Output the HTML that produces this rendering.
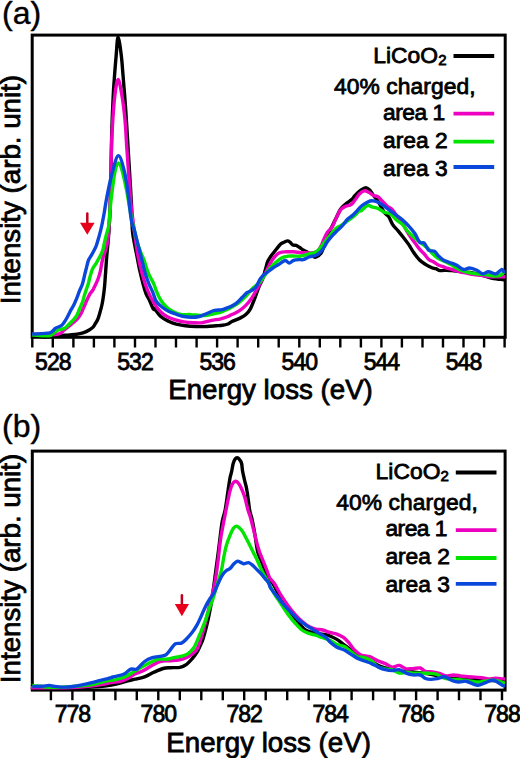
<!DOCTYPE html>
<html><head><meta charset="utf-8"><style>
html,body{margin:0;padding:0;background:#fff;}
svg{display:block;}
text{font-family:"Liberation Sans",sans-serif;fill:#000;stroke:#000;stroke-width:0.8px;}
.tl{font-size:23px;letter-spacing:-1px;}
.ti{font-size:27.7px;}
.pl{font-size:32px;stroke-width:0.4px;}
.lg{font-size:22.8px;}
.c40{letter-spacing:0.091px;}
.a1{letter-spacing:-0.500px;}
.a2{letter-spacing:-0.020px;}
.li{letter-spacing:0.040px;}
.sub{font-size:15px;}
</style></head><body>
<svg width="520" height="758" viewBox="0 0 520 758">
<rect width="520" height="758" fill="#fff"/>
<rect x="32.2" y="35.1" width="473.0" height="302.2" fill="none" stroke="#000" stroke-width="3"/>
<clipPath id="ca"><rect x="30.7" y="33.6" width="476.0" height="305.2"/></clipPath>
<g clip-path="url(#ca)" fill="none" stroke-width="3.4" stroke-linejoin="round" stroke-linecap="butt">
<path d="M32.2,335.3 C32.4,335.3 31.4,335.0 33.5,335.3 C35.6,335.6 41.5,337.1 45.0,337.2 C48.5,337.3 51.4,336.1 54.6,335.8 C57.8,335.5 61.3,335.5 64.2,335.3 C67.1,335.1 69.5,335.1 71.9,334.8 C74.3,334.6 76.6,334.2 78.7,333.8 C80.8,333.4 82.7,333.0 84.4,332.4 C86.2,331.8 87.8,330.9 89.2,330.0 C90.7,329.1 92.1,328.1 93.1,327.1 C94.1,326.1 94.2,325.5 95.0,324.2 C95.8,322.9 96.9,321.4 97.7,319.5 C98.5,317.6 99.1,315.4 99.8,313.0 C100.5,310.6 101.4,307.4 101.9,305.0 C102.4,302.6 102.5,302.0 103.0,298.9 C103.5,295.8 104.2,290.6 104.6,286.2 C105.0,281.8 105.2,277.4 105.6,272.5 C105.9,267.6 106.3,262.0 106.7,256.7 C107.1,251.4 107.8,246.1 108.2,240.8 C108.6,235.5 109.0,231.0 109.3,225.0 C109.6,219.0 109.9,214.2 110.2,205.0 C110.5,195.8 110.7,182.9 111.0,170.0 C111.3,157.1 111.5,139.9 111.9,127.6 C112.3,115.3 112.8,104.6 113.2,96.0 C113.6,87.4 114.0,82.8 114.5,76.2 C115.0,69.6 115.5,62.9 116.1,56.4 C116.7,49.9 117.2,37.0 118.1,37.0 C119.0,37.0 120.6,49.9 121.4,56.4 C122.2,62.9 122.5,69.6 123.1,76.2 C123.6,82.8 124.1,88.4 124.7,96.0 C125.3,103.6 126.0,113.6 126.5,122.0 C127.0,130.4 127.5,137.9 128.0,146.4 C128.5,154.9 129.0,163.0 129.6,172.8 C130.2,182.6 131.0,195.4 131.5,205.0 C132.0,214.6 131.8,223.7 132.4,230.6 C133.0,237.5 134.2,242.0 135.0,246.4 C135.8,250.8 136.3,252.8 137.1,256.9 C137.9,260.9 138.8,266.3 139.8,270.7 C140.8,275.1 141.9,279.4 142.9,283.3 C143.9,287.2 145.0,291.1 146.1,293.9 C147.2,296.7 148.1,297.5 149.3,300.0 C150.5,302.5 152.4,307.5 153.3,309.0 C154.2,310.5 153.3,307.6 154.6,308.8 C155.8,310.1 158.5,314.4 160.8,316.5 C163.1,318.6 165.9,319.9 168.5,321.2 C171.1,322.5 173.4,323.4 176.2,324.2 C179.0,325.0 182.1,325.4 185.4,325.8 C188.7,326.2 192.6,326.4 196.2,326.5 C199.8,326.6 203.6,326.6 206.9,326.5 C210.2,326.4 213.6,326.0 216.2,325.8 C218.8,325.6 220.3,325.6 222.3,325.3 C224.3,325.0 226.4,324.6 228.0,324.0 C229.6,323.4 229.9,322.5 231.9,321.5 C233.9,320.5 237.7,319.2 240.0,318.1 C242.3,317.0 244.1,316.2 245.8,314.6 C247.5,313.1 249.1,311.1 250.4,308.8 C251.7,306.5 252.5,304.2 253.8,300.8 C255.2,297.4 256.9,292.0 258.5,288.1 C260.1,284.2 262.0,280.8 263.1,277.7 C264.2,274.6 264.6,272.3 265.4,269.6 C266.2,266.9 266.7,263.8 267.7,261.5 C268.7,259.2 269.8,257.9 271.2,255.8 C272.6,253.8 274.7,251.2 276.3,249.2 C277.9,247.2 279.4,245.2 280.7,244.0 C282.0,242.8 283.0,242.8 284.1,242.3 C285.2,241.8 286.6,240.9 287.6,240.9 C288.6,240.9 289.3,241.6 290.2,242.3 C291.1,243.0 291.8,244.4 292.8,244.9 C293.8,245.4 295.1,245.0 296.2,245.4 C297.3,245.8 298.5,246.7 299.7,247.5 C300.9,248.3 302.0,249.3 303.1,250.0 C304.2,250.7 305.0,250.8 306.6,251.8 C308.2,252.8 311.1,255.2 312.7,256.1 C314.3,257.0 314.7,257.6 316.1,257.0 C317.5,256.4 319.8,255.0 321.3,252.7 C322.8,250.4 323.9,246.1 325.0,243.0 C326.1,239.9 326.8,236.8 328.0,234.0 C329.2,231.2 330.7,229.0 332.0,226.5 C333.3,224.0 334.2,221.8 335.6,219.0 C337.0,216.2 339.0,211.8 340.4,209.5 C341.8,207.2 342.8,206.7 344.0,205.5 C345.2,204.3 346.1,203.7 347.5,202.6 C348.9,201.5 351.1,200.2 352.3,199.0 C353.6,197.8 353.5,196.9 355.0,195.4 C356.5,193.9 359.4,191.3 361.2,190.0 C363.0,188.7 364.4,187.7 365.8,187.7 C367.2,187.7 368.3,188.7 369.6,190.0 C370.9,191.3 372.1,193.5 373.5,195.4 C374.9,197.3 376.3,198.7 378.1,201.5 C379.9,204.3 382.4,209.7 384.2,212.3 C386.0,214.9 387.4,214.9 388.8,216.9 C390.2,218.9 391.1,222.3 392.7,224.6 C394.2,226.9 396.2,228.5 398.1,230.8 C400.0,233.1 402.4,236.2 404.2,238.5 C406.0,240.8 407.2,242.3 408.8,244.6 C410.4,246.9 411.7,249.7 413.5,252.3 C415.3,254.9 417.6,257.9 419.6,260.0 C421.7,262.1 423.8,263.3 425.8,264.6 C427.9,265.9 430.2,267.0 431.9,267.7 C433.6,268.4 434.4,268.2 435.8,268.7 C437.2,269.2 438.5,270.4 440.2,270.6 C441.9,270.9 444.2,270.2 446.1,270.2 C448.1,270.2 449.6,270.4 451.9,270.6 C454.2,270.8 457.0,271.2 460.0,271.5 C463.0,271.8 466.7,272.0 470.0,272.5 C473.3,273.0 476.4,273.6 480.0,274.5 C483.6,275.4 488.5,277.4 491.4,278.2 C494.3,278.9 495.2,278.8 497.3,279.0 C499.4,279.2 502.5,279.6 503.8,279.7 C505.1,279.8 505.0,279.7 505.2,279.7" stroke="#000000"/>
<path d="M32.2,334.5 C32.4,334.5 31.4,334.4 33.5,334.5 C35.6,334.6 41.4,334.8 45.0,334.8 C48.6,334.8 52.5,334.7 55.0,334.5 C57.5,334.3 58.5,334.2 60.0,333.5 C61.5,332.8 62.7,331.2 64.2,330.0 C65.7,328.8 67.4,327.5 69.0,326.2 C70.6,324.9 72.3,323.6 73.8,322.3 C75.2,321.0 76.4,320.1 77.7,318.5 C79.0,316.9 80.4,314.8 81.5,312.7 C82.6,310.6 83.4,308.2 84.4,306.0 C85.4,303.8 86.3,301.3 87.3,299.2 C88.3,297.1 89.2,295.1 90.2,293.5 C91.2,291.9 91.8,291.9 93.1,289.6 C94.3,287.3 96.5,282.9 97.7,279.9 C98.9,276.9 99.7,273.9 100.3,271.4 C100.9,268.9 101.0,267.4 101.4,265.1 C101.9,262.8 102.4,260.0 103.0,257.7 C103.6,255.4 104.3,254.2 105.1,251.4 C105.9,248.6 107.0,245.2 107.7,240.8 C108.4,236.4 108.8,231.0 109.2,225.0 C109.6,219.0 109.8,218.1 110.2,205.0 C110.6,191.9 111.1,159.7 111.5,146.4 C111.9,133.1 112.0,133.4 112.5,125.0 C113.0,116.6 113.9,103.6 114.8,96.0 C115.7,88.4 116.9,79.5 118.1,79.5 C119.3,79.5 120.8,89.2 122.0,96.0 C123.2,102.8 124.2,111.6 125.0,120.0 C125.8,128.4 126.1,137.6 126.7,146.4 C127.3,155.2 127.9,164.0 128.6,172.8 C129.2,181.6 130.2,193.6 130.6,199.0 C131.0,204.4 130.5,200.2 131.1,205.0 C131.7,209.8 132.8,219.6 133.9,227.7 C135.0,235.8 136.2,245.9 137.6,253.6 C139.0,261.3 140.5,267.8 142.2,274.0 C143.9,280.2 145.6,285.6 147.7,290.6 C149.8,295.6 152.4,300.6 154.6,304.2 C156.8,307.8 158.8,309.8 160.8,311.9 C162.9,313.9 164.6,315.2 166.9,316.5 C169.2,317.8 171.8,318.7 174.6,319.6 C177.4,320.5 180.7,321.4 183.8,321.9 C186.9,322.4 190.0,322.6 193.1,322.7 C196.2,322.8 199.2,323.1 202.3,322.7 C205.4,322.3 208.4,321.0 211.5,320.4 C214.6,319.8 218.1,319.4 220.8,318.8 C223.6,318.2 226.2,317.2 228.0,316.5 C229.8,315.8 230.1,315.5 231.9,314.6 C233.7,313.7 236.5,312.7 238.8,311.2 C241.1,309.7 243.7,307.5 245.8,305.4 C247.9,303.3 249.8,301.0 251.5,298.5 C253.2,296.0 254.6,293.1 256.2,290.4 C257.8,287.7 259.3,285.2 260.8,282.3 C262.3,279.4 263.9,276.2 265.4,273.1 C266.9,270.0 268.5,266.5 270.0,263.8 C271.5,261.1 273.0,258.8 274.6,256.9 C276.2,255.0 277.8,253.5 279.8,252.7 C281.8,251.8 284.4,252.0 286.7,251.8 C289.0,251.7 291.3,251.7 293.6,251.8 C295.9,252.0 298.6,252.5 300.6,252.7 C302.6,252.8 303.8,252.6 305.7,252.7 C307.6,252.8 310.3,253.1 312.0,253.0 C313.7,252.9 314.9,252.5 316.0,252.0 C317.1,251.5 317.6,251.1 318.5,250.0 C319.4,248.9 320.4,247.2 321.3,245.5 C322.2,243.8 322.8,241.7 323.8,239.5 C324.8,237.3 325.9,234.6 327.3,232.5 C328.7,230.4 330.7,229.2 332.1,227.0 C333.5,224.8 334.2,222.3 335.6,219.5 C337.0,216.7 338.8,212.2 340.4,210.0 C342.0,207.8 343.3,207.4 345.1,206.5 C346.9,205.6 349.5,205.6 351.1,204.5 C352.8,203.4 353.6,201.8 355.0,200.0 C356.4,198.2 358.1,195.3 359.6,193.8 C361.1,192.3 362.7,191.1 364.2,190.8 C365.7,190.6 367.2,191.5 368.8,192.3 C370.4,193.1 371.9,194.6 373.5,195.4 C375.1,196.2 376.6,195.9 378.1,196.9 C379.6,197.9 381.2,199.9 382.7,201.5 C384.2,203.1 385.8,204.9 387.3,206.2 C388.8,207.5 390.4,207.7 391.9,209.2 C393.4,210.7 394.9,213.3 396.5,215.4 C398.1,217.5 399.6,219.2 401.2,221.5 C402.8,223.8 404.3,226.6 405.8,229.2 C407.3,231.8 408.9,234.6 410.4,236.9 C411.9,239.2 413.5,241.1 415.0,243.1 C416.5,245.1 418.1,247.4 419.6,249.2 C421.1,251.0 422.7,252.1 424.2,253.8 C425.7,255.5 427.3,258.2 428.8,259.5 C430.3,260.8 431.6,260.7 433.0,261.5 C434.4,262.3 435.4,263.4 437.3,264.4 C439.2,265.4 442.2,266.4 444.6,267.3 C447.0,268.2 449.5,268.8 451.9,269.5 C454.3,270.2 456.8,271.1 459.2,271.7 C461.6,272.3 464.1,272.6 466.5,273.1 C468.9,273.6 471.4,274.2 473.9,274.6 C476.3,275.0 478.8,274.9 481.2,275.3 C483.6,275.7 486.1,276.6 488.5,276.8 C490.9,277.1 493.2,276.8 495.8,276.8 C498.4,276.8 502.2,276.8 503.8,276.8 C505.4,276.8 505.0,276.8 505.2,276.8" stroke="#ee00c0"/>
<path d="M32.2,335.0 C32.4,335.0 31.4,334.9 33.5,335.0 C35.6,335.1 42.1,335.8 45.0,335.8 C47.9,335.9 49.2,335.9 50.8,335.3 C52.4,334.7 53.3,333.3 54.6,332.4 C55.9,331.5 56.9,330.6 58.5,330.0 C60.1,329.4 62.6,329.4 64.2,328.6 C65.8,327.8 66.6,326.6 68.1,325.2 C69.5,323.8 71.5,322.0 72.9,320.4 C74.3,318.8 75.6,317.5 76.7,315.6 C77.8,313.7 78.6,311.1 79.6,308.8 C80.6,306.6 81.7,304.3 82.5,302.1 C83.3,299.9 83.8,297.5 84.4,295.4 C85.0,293.3 85.7,291.5 86.3,289.6 C86.9,287.7 87.7,285.8 88.3,283.8 C88.9,281.8 89.1,279.9 89.8,277.5 C90.5,275.1 91.4,271.5 92.4,269.3 C93.4,267.1 94.5,265.9 95.6,264.1 C96.6,262.4 97.6,260.9 98.7,258.8 C99.8,256.7 101.4,254.2 102.4,251.4 C103.4,248.6 103.9,244.9 104.6,241.9 C105.3,238.9 106.0,236.2 106.7,233.4 C107.4,230.6 108.2,229.7 108.8,225.0 C109.4,220.3 109.5,213.7 110.5,205.0 C111.5,196.3 113.5,179.8 114.8,172.8 C116.1,165.8 117.2,163.0 118.5,162.9 C119.8,162.8 121.2,167.5 122.5,172.0 C123.8,176.5 125.2,183.7 126.5,190.0 C127.8,196.3 129.0,204.7 130.0,210.0 C131.0,215.3 131.7,218.2 132.5,222.0 C133.3,225.8 134.1,229.3 135.0,233.0 C135.9,236.7 136.9,241.2 137.7,244.0 C138.5,246.8 139.1,248.0 139.8,250.0 C140.6,252.0 141.5,254.3 142.2,256.0 C142.9,257.7 143.0,257.3 144.0,260.1 C145.0,262.9 146.6,268.9 148.2,272.8 C149.8,276.7 152.1,280.1 153.5,283.3 C154.9,286.5 155.4,288.9 156.7,291.8 C157.9,294.7 159.3,297.9 161.0,300.5 C162.7,303.1 165.0,305.7 167.0,307.5 C169.0,309.3 170.7,310.4 173.0,311.5 C175.3,312.6 177.8,313.9 180.8,314.4 C183.8,314.9 187.6,314.4 190.8,314.6 C194.0,314.8 197.3,315.4 200.0,315.5 C202.7,315.6 204.6,315.5 207.0,315.2 C209.4,314.9 212.1,314.1 214.6,313.5 C217.1,312.9 218.3,313.4 222.0,311.8 C225.7,310.2 232.5,306.8 236.5,304.2 C240.5,301.6 243.1,298.9 245.8,296.2 C248.5,293.5 250.6,290.2 252.7,288.1 C254.8,286.0 256.8,285.2 258.5,283.5 C260.2,281.8 261.4,280.0 263.1,277.7 C264.8,275.4 266.9,272.0 268.8,269.6 C270.7,267.2 272.5,265.4 274.6,263.5 C276.7,261.6 279.2,259.1 281.5,257.9 C283.8,256.7 286.1,256.4 288.4,256.1 C290.7,255.8 293.4,256.1 295.4,256.1 C297.4,256.1 298.6,256.4 300.6,256.1 C302.6,255.8 305.2,255.0 307.5,254.4 C309.8,253.8 312.6,253.4 314.4,252.7 C316.2,252.0 317.3,251.0 318.5,250.0 C319.7,249.0 320.3,247.9 321.4,246.5 C322.5,245.1 323.5,243.6 324.9,241.8 C326.3,240.0 327.9,238.0 329.7,235.8 C331.5,233.6 333.6,230.5 335.6,228.7 C337.6,226.9 339.2,226.7 341.6,225.1 C344.0,223.5 347.5,221.0 349.9,219.2 C352.3,217.4 354.1,216.0 355.8,214.4 C357.5,212.8 359.1,210.3 360.0,209.7 C360.9,209.1 360.0,211.5 361.2,210.8 C362.4,210.1 365.5,206.1 367.3,205.4 C369.1,204.8 370.1,206.4 371.9,206.9 C373.7,207.4 376.1,207.6 378.1,208.5 C380.2,209.4 382.1,211.4 384.2,212.3 C386.2,213.2 388.3,212.5 390.4,213.8 C392.4,215.1 394.4,218.2 396.5,220.0 C398.6,221.8 400.9,222.8 402.7,224.6 C404.5,226.4 405.5,228.8 407.3,230.8 C409.1,232.9 411.2,234.9 413.5,236.9 C415.8,238.9 418.6,241.1 421.2,243.1 C423.8,245.1 427.0,247.5 428.8,249.2 C430.6,250.8 430.6,251.6 432.0,253.0 C433.4,254.4 435.4,256.5 437.3,257.8 C439.2,259.1 440.8,259.5 443.2,260.7 C445.6,261.9 449.2,263.6 451.9,265.1 C454.6,266.6 456.5,268.3 459.2,269.5 C461.9,270.7 465.1,271.7 468.0,272.4 C470.9,273.1 473.9,273.5 476.8,273.9 C479.7,274.3 482.7,274.2 485.6,274.6 C488.5,275.0 491.9,275.9 494.3,276.0 C496.7,276.1 498.6,275.9 500.2,275.3 C501.8,274.7 503.0,272.9 503.8,272.4 C504.6,271.9 505.0,272.4 505.2,272.4" stroke="#00e400"/>
<path d="M32.2,334.0 C32.4,334.0 31.4,334.1 33.5,334.0 C35.6,333.9 42.3,333.6 45.0,333.4 C47.7,333.2 48.5,333.3 49.8,332.9 C51.1,332.5 51.7,331.8 52.7,331.0 C53.7,330.2 54.2,329.0 55.6,328.1 C57.0,327.2 59.9,326.7 61.3,325.7 C62.7,324.7 63.2,323.7 64.2,322.3 C65.2,320.9 66.1,319.3 67.1,317.5 C68.1,315.7 68.9,313.8 70.0,311.7 C71.1,309.6 72.7,307.2 73.8,305.0 C74.9,302.8 75.7,300.7 76.7,298.3 C77.7,295.9 78.6,293.0 79.6,290.6 C80.6,288.2 81.6,286.7 82.5,283.8 C83.4,280.9 84.2,276.6 85.0,273.5 C85.8,270.4 86.5,267.4 87.1,265.1 C87.7,262.8 87.8,261.7 88.7,259.8 C89.6,257.9 91.2,255.8 92.4,253.5 C93.6,251.2 94.9,249.1 96.1,246.1 C97.2,243.1 98.3,239.1 99.3,235.6 C100.3,232.1 101.1,228.8 101.9,225.0 C102.7,221.2 103.4,217.3 104.2,213.0 C105.0,208.7 105.2,205.7 106.5,199.0 C107.8,192.3 110.2,180.0 112.2,172.8 C114.2,165.6 116.4,155.6 118.5,155.6 C120.6,155.6 123.1,166.2 124.7,172.8 C126.3,179.4 127.2,187.1 128.3,195.0 C129.4,202.9 130.3,214.1 131.3,220.0 C132.3,225.9 133.5,227.1 134.5,230.6 C135.5,234.1 136.2,237.6 137.1,241.1 C138.0,244.6 138.9,248.2 139.8,251.7 C140.7,255.2 141.5,258.7 142.4,262.2 C143.3,265.7 143.9,269.3 145.0,272.8 C146.1,276.3 147.4,280.0 148.7,283.3 C150.0,286.6 151.8,289.8 153.0,292.8 C154.2,295.8 154.6,298.8 156.2,301.2 C157.8,303.6 160.2,305.6 162.3,307.3 C164.4,309.0 166.2,310.1 168.5,311.2 C170.8,312.3 173.6,313.3 176.2,314.2 C178.8,315.1 181.2,316.0 183.8,316.5 C186.4,317.0 188.9,317.3 191.5,317.3 C194.1,317.3 196.6,317.1 199.2,316.5 C201.8,315.9 204.3,314.5 206.9,313.5 C209.5,312.5 212.0,311.0 214.6,310.4 C217.2,309.8 220.1,310.1 222.3,309.6 C224.5,309.1 226.6,308.0 228.0,307.5 C229.4,307.0 229.4,307.2 230.8,306.5 C232.2,305.8 234.6,304.6 236.5,303.1 C238.4,301.6 240.6,299.0 242.3,297.3 C244.0,295.6 245.4,293.8 246.9,292.7 C248.4,291.6 249.9,291.5 251.5,290.5 C253.1,289.5 254.8,288.2 256.2,286.5 C257.6,284.8 258.5,281.9 259.6,280.0 C260.8,278.1 261.8,276.8 263.1,275.4 C264.5,274.0 266.1,273.1 267.7,271.9 C269.3,270.7 271.2,269.2 272.9,268.0 C274.6,266.8 276.4,265.9 278.1,264.8 C279.8,263.7 282.0,262.0 283.3,261.3 C284.6,260.6 284.8,260.3 285.8,260.6 C286.8,260.9 288.0,263.0 289.3,263.0 C290.6,263.0 292.0,261.0 293.6,260.4 C295.2,259.8 297.2,259.7 298.8,259.6 C300.4,259.5 301.4,260.0 303.1,259.6 C304.8,259.2 307.0,257.7 309.2,257.0 C311.4,256.3 314.2,256.1 316.1,255.3 C318.0,254.5 319.2,253.3 320.5,252.0 C321.8,250.7 322.7,249.4 323.8,247.7 C324.9,246.0 325.9,243.8 327.3,241.8 C328.7,239.8 330.3,237.8 332.1,235.8 C333.9,233.8 336.2,231.7 338.0,229.9 C339.8,228.1 341.2,226.9 342.8,225.1 C344.4,223.3 345.9,220.8 347.5,219.2 C349.1,217.6 350.7,217.0 352.3,215.6 C353.9,214.2 355.5,212.5 357.0,210.9 C358.5,209.3 359.5,207.6 361.2,206.2 C362.9,204.8 365.5,203.2 367.3,202.3 C369.1,201.4 370.1,200.8 371.9,200.8 C373.7,200.8 376.1,201.4 378.1,202.3 C380.2,203.2 382.1,204.8 384.2,206.2 C386.2,207.6 388.3,209.3 390.4,210.8 C392.4,212.3 394.4,213.9 396.5,215.4 C398.6,216.9 400.6,218.2 402.7,220.0 C404.8,221.8 406.8,223.9 408.8,226.2 C410.9,228.5 413.2,231.1 415.0,233.8 C416.8,236.5 418.1,240.8 419.6,242.3 C421.1,243.9 422.7,241.8 424.2,243.1 C425.7,244.4 427.1,249.0 428.8,250.3 C430.5,251.7 432.7,250.2 434.4,251.2 C436.1,252.2 437.3,254.8 438.8,256.3 C440.3,257.8 441.5,259.0 443.2,260.0 C444.9,261.0 446.8,261.3 449.0,262.2 C451.2,263.1 453.9,263.9 456.3,265.1 C458.7,266.3 461.4,269.0 463.6,269.5 C465.8,270.0 467.3,267.9 469.5,268.0 C471.7,268.1 474.6,269.2 476.8,270.2 C479.0,271.2 480.7,273.6 482.6,273.9 C484.6,274.1 486.3,271.7 488.5,271.7 C490.7,271.7 493.6,274.3 495.8,273.9 C498.0,273.5 500.3,269.9 501.6,269.5 C502.9,269.1 503.2,271.3 503.8,271.7 C504.4,272.1 505.0,271.7 505.2,271.7" stroke="#0a48dc"/>
</g>
<path d="M32.3,337.3V347.6M52.8,337.3V347.6M73.4,337.3V347.6M93.9,337.3V347.6M114.4,337.3V347.6M135.0,337.3V347.6M155.5,337.3V347.6M176.0,337.3V347.6M196.6,337.3V347.6M217.1,337.3V347.6M237.6,337.3V347.6M258.2,337.3V347.6M278.7,337.3V347.6M299.3,337.3V347.6M319.8,337.3V347.6M340.3,337.3V347.6M360.9,337.3V347.6M381.4,337.3V347.6M401.9,337.3V347.6M422.5,337.3V347.6M443.0,337.3V347.6M463.5,337.3V347.6M484.1,337.3V347.6M504.6,337.3V347.6" stroke="#000" stroke-width="2.4" fill="none"/>
<text x="52.8" y="370.2" text-anchor="middle" class="tl">528</text>
<text x="135.0" y="370.2" text-anchor="middle" class="tl">532</text>
<text x="217.1" y="370.2" text-anchor="middle" class="tl">536</text>
<text x="299.3" y="370.2" text-anchor="middle" class="tl">540</text>
<text x="381.4" y="370.2" text-anchor="middle" class="tl">544</text>
<text x="463.5" y="370.2" text-anchor="middle" class="tl">548</text>
<text x="270.5" y="398.5" text-anchor="middle" class="ti">Energy loss (eV)</text>
<text transform="translate(20.3,189.6) rotate(-90)" text-anchor="middle" class="ti">Intensity (arb. unit)</text>
<text x="2" y="23.5" class="pl">(a)</text>
<text x="373.3" y="62.5" class="lg li">LiCoO<tspan class="sub" dy="2">2</tspan></text>
<path d="M453.5,56.0H494.2" stroke="#000000" stroke-width="3.8"/>
<text x="333.9" y="93.8" class="lg c40">40% charged,</text>
<text x="383.1" y="119.8" class="lg a1">area 1</text>
<path d="M453.5,113.7H494.2" stroke="#ee00c0" stroke-width="3.8"/>
<text x="383.1" y="147.7" class="lg a2">area 2</text>
<path d="M453.5,141.7H494.2" stroke="#00e400" stroke-width="3.8"/>
<text x="383.1" y="175.6" class="lg a2">area 3</text>
<path d="M453.5,167.0H494.2" stroke="#0a48dc" stroke-width="3.8"/>
<path d="M87.3,213.6V223.8" stroke="#c0001c" stroke-width="2.5" stroke-linecap="round"/>
<path d="M80.0,222.8L94.6,222.8L87.3,234.8Z" fill="#e6001a"/>
<rect x="32.3" y="451.1" width="472.8" height="239.0" fill="none" stroke="#000" stroke-width="3"/>
<clipPath id="cb"><rect x="30.8" y="449.6" width="475.8" height="242.0"/></clipPath>
<g clip-path="url(#cb)" fill="none" stroke-width="3.4" stroke-linejoin="round" stroke-linecap="butt">
<path d="M32.3,688.5 C32.5,688.5 30.4,688.5 33.5,688.5 C36.6,688.5 44.5,688.4 50.8,688.3 C57.1,688.2 63.4,688.3 71.5,688.0 C79.6,687.7 92.8,687.1 99.2,686.6 C105.6,686.1 106.5,685.9 110.0,685.3 C113.5,684.7 117.0,683.9 120.0,683.1 C123.0,682.4 125.1,681.4 127.7,680.8 C130.3,680.1 132.6,679.9 135.4,679.2 C138.2,678.6 141.5,678.0 144.6,676.9 C147.7,675.8 150.7,673.7 153.8,672.3 C156.9,670.9 160.3,669.3 163.1,668.5 C165.9,667.7 168.0,667.9 170.8,667.7 C173.6,667.5 177.4,667.9 180.0,667.4 C182.6,666.9 184.1,666.1 186.2,664.6 C188.2,663.1 190.5,660.5 192.3,658.5 C194.1,656.5 195.6,654.3 196.9,652.3 C198.2,650.2 198.9,648.5 200.0,646.2 C201.1,643.9 202.0,642.5 203.2,638.6 C204.4,634.7 206.3,627.5 207.4,622.7 C208.5,617.9 209.3,613.5 210.0,610.0 C210.7,606.5 211.0,605.3 211.6,601.6 C212.2,597.9 212.8,592.8 213.5,588.0 C214.2,583.2 214.7,579.3 215.5,573.0 C216.3,566.7 217.4,558.8 218.5,550.4 C219.6,542.0 220.9,529.5 222.0,522.7 C223.1,515.9 224.2,515.1 225.2,509.7 C226.2,504.3 227.3,495.5 228.1,490.2 C228.9,484.9 229.4,481.2 230.0,478.0 C230.6,474.8 231.2,473.6 231.7,471.2 C232.2,468.8 232.6,465.5 233.2,463.5 C233.8,461.5 234.3,460.3 235.0,459.3 C235.7,458.3 236.4,457.7 237.1,457.7 C237.8,457.7 238.6,458.3 239.3,459.3 C240.1,460.3 241.1,461.5 241.6,463.5 C242.1,465.5 242.1,468.4 242.6,471.2 C243.1,473.9 243.8,476.8 244.5,480.0 C245.2,483.2 246.1,485.2 246.9,490.2 C247.8,495.1 248.8,504.9 249.6,509.7 C250.4,514.5 251.1,514.8 252.0,519.0 C252.9,523.2 254.1,529.5 255.0,535.0 C255.9,540.5 256.6,547.5 257.7,551.9 C258.8,556.3 260.1,557.9 261.4,561.2 C262.7,564.6 264.2,568.6 265.5,572.0 C266.8,575.4 268.2,579.6 269.4,581.5 C270.6,583.4 270.8,581.0 272.5,583.3 C274.2,585.6 277.1,591.7 279.4,595.4 C281.7,599.1 284.0,602.2 286.3,605.7 C288.6,609.2 291.0,612.9 293.3,616.1 C295.6,619.3 298.2,622.5 300.2,624.8 C302.2,627.1 303.4,628.7 305.4,630.0 C307.4,631.3 309.6,631.8 312.0,632.5 C314.4,633.2 317.4,633.5 320.0,634.0 C322.6,634.5 326.2,634.9 327.9,635.2 C329.6,635.5 328.5,635.3 330.0,636.0 C331.5,636.7 334.6,638.0 336.9,639.4 C339.2,640.8 341.5,642.9 343.8,644.6 C346.1,646.3 348.5,648.2 350.8,649.8 C353.1,651.4 355.4,652.8 357.7,654.1 C360.0,655.4 362.3,656.3 364.6,657.5 C366.9,658.7 369.2,660.2 371.5,661.5 C373.8,662.8 376.1,664.4 378.4,665.5 C380.7,666.6 383.1,667.3 385.4,668.0 C387.7,668.7 390.0,669.0 392.3,669.5 C394.6,670.0 396.9,670.7 399.2,671.0 C401.5,671.3 403.8,671.3 406.1,671.5 C408.4,671.7 410.4,671.8 413.0,672.0 C415.6,672.2 418.8,672.6 422.0,673.0 C425.2,673.4 428.5,673.8 432.0,674.5 C435.5,675.2 439.7,676.3 443.0,677.0 C446.3,677.7 449.2,678.2 452.0,678.5 C454.8,678.8 457.4,678.9 460.0,679.0 C462.6,679.1 465.1,679.3 467.5,679.4 C469.9,679.5 472.2,679.2 474.5,679.4 C476.8,679.5 479.1,680.1 481.5,680.3 C483.9,680.5 486.2,680.5 488.6,680.6 C491.0,680.7 493.2,680.4 495.6,680.6 C498.0,680.8 501.4,681.5 503.0,681.7 C504.6,681.9 504.8,681.7 505.1,681.7" stroke="#000000"/>
<path d="M32.3,687.8 C32.5,687.8 27.0,687.8 33.5,687.8 C40.0,687.8 61.7,687.8 71.5,687.5 C81.3,687.2 86.4,686.5 92.3,685.8 C98.2,685.1 103.5,684.1 106.9,683.5 C110.4,682.9 110.8,682.5 113.0,682.2 C115.2,681.9 117.5,682.1 120.0,681.5 C122.5,680.9 125.1,679.8 127.7,678.5 C130.3,677.2 132.8,675.1 135.4,673.8 C138.0,672.5 140.5,672.1 143.1,670.8 C145.7,669.5 148.0,667.8 150.8,666.2 C153.6,664.7 156.9,662.4 160.0,661.5 C163.1,660.6 166.1,661.0 169.2,660.8 C172.3,660.5 175.7,660.5 178.5,660.0 C181.3,659.5 183.9,658.7 186.2,657.7 C188.5,656.7 190.5,655.2 192.3,653.8 C194.1,652.4 195.6,651.2 196.9,649.2 C198.2,647.2 198.8,645.0 200.0,641.5 C201.2,638.0 202.7,632.9 204.0,628.0 C205.3,623.1 206.8,617.2 208.0,612.0 C209.2,606.8 210.5,601.0 211.5,597.0 C212.5,593.0 213.1,591.5 213.8,588.0 C214.6,584.5 215.2,581.2 216.0,576.0 C216.8,570.8 217.7,563.6 218.5,557.0 C219.3,550.4 219.7,544.4 221.0,536.5 C222.3,528.6 224.6,517.4 226.1,509.7 C227.6,502.0 229.1,494.5 230.2,490.2 C231.3,485.9 231.6,485.5 232.5,484.0 C233.4,482.5 234.7,481.3 235.8,481.3 C236.9,481.3 237.9,482.5 239.0,484.0 C240.1,485.5 241.2,487.9 242.2,490.2 C243.2,492.5 244.1,494.8 245.0,498.0 C245.9,501.2 247.0,506.6 247.9,509.7 C248.8,512.8 249.5,514.1 250.2,516.5 C250.9,518.9 251.5,521.4 252.2,524.2 C252.9,527.0 253.7,530.4 254.5,533.5 C255.3,536.6 256.0,539.6 256.8,542.7 C257.6,545.8 258.4,548.8 259.5,551.9 C260.6,555.0 262.0,558.1 263.2,561.2 C264.4,564.3 265.8,567.6 266.9,570.4 C268.0,573.2 268.5,575.6 269.7,577.8 C270.9,579.9 272.3,580.4 274.2,583.3 C276.1,586.2 278.8,591.7 281.1,595.4 C283.4,599.1 285.8,602.5 288.1,605.7 C290.4,608.9 292.7,611.8 295.0,614.4 C297.3,617.0 299.6,619.3 301.9,621.3 C304.2,623.3 306.5,625.2 308.8,626.5 C311.1,627.8 313.4,628.5 315.7,629.1 C318.0,629.7 320.3,629.4 322.7,630.0 C325.1,630.6 327.6,631.8 330.0,632.5 C332.4,633.2 334.6,633.3 336.9,634.2 C339.2,635.1 341.8,636.2 343.8,637.7 C345.8,639.2 347.3,640.9 349.0,642.9 C350.7,644.9 352.2,647.8 354.2,649.8 C356.2,651.8 358.5,653.9 361.1,655.0 C363.7,656.1 366.9,655.7 369.8,656.7 C372.7,657.7 375.8,659.9 378.4,661.0 C381.0,662.1 383.1,662.6 385.4,663.6 C387.7,664.6 390.0,666.8 392.3,667.1 C394.6,667.4 396.9,665.1 399.2,665.4 C401.5,665.7 403.8,668.3 406.1,668.8 C408.4,669.3 410.6,668.7 413.0,668.6 C415.4,668.5 418.2,667.5 420.3,668.0 C422.4,668.5 423.5,670.9 425.5,671.5 C427.5,672.1 430.2,671.6 432.5,671.9 C434.8,672.2 437.2,672.6 439.5,673.3 C441.8,674.0 444.2,675.6 446.5,675.9 C448.8,676.2 451.2,675.0 453.5,675.0 C455.8,675.0 458.2,675.6 460.5,675.9 C462.8,676.2 465.2,676.6 467.5,676.8 C469.8,677.0 472.2,677.0 474.5,677.1 C476.8,677.2 479.1,677.4 481.5,677.7 C483.9,678.0 486.2,678.8 488.6,678.9 C491.0,679.0 493.2,678.2 495.6,678.2 C498.0,678.2 501.4,678.8 503.0,678.9 C504.6,679.0 504.8,678.9 505.1,678.9" stroke="#ee00c0"/>
<path d="M32.3,685.6 C32.5,685.6 30.4,685.3 33.5,685.6 C36.6,685.9 44.5,687.1 50.8,687.3 C57.1,687.5 64.6,687.1 71.5,686.6 C78.4,686.1 86.4,685.5 92.3,684.5 C98.2,683.5 103.5,681.5 106.9,680.8 C110.4,680.1 110.8,680.6 113.0,680.2 C115.2,679.8 117.5,679.3 120.0,678.5 C122.5,677.7 125.1,676.7 127.7,675.4 C130.3,674.1 132.8,672.3 135.4,670.8 C138.0,669.3 140.5,667.6 143.1,666.2 C145.7,664.8 148.2,663.5 150.8,662.3 C153.4,661.1 155.9,659.7 158.5,659.2 C161.1,658.7 163.6,659.5 166.2,659.2 C168.8,659.0 171.2,658.2 173.8,657.7 C176.4,657.2 179.2,656.9 181.5,656.2 C183.8,655.6 185.6,655.2 187.7,653.8 C189.8,652.4 192.3,649.8 193.8,647.7 C195.3,645.7 195.9,643.8 196.9,641.5 C197.9,639.2 198.6,637.5 200.0,634.0 C201.4,630.5 203.7,624.9 205.3,620.6 C206.9,616.3 208.3,611.5 209.5,608.0 C210.7,604.5 211.6,602.7 212.7,599.5 C213.8,596.3 214.8,592.5 215.9,589.0 C217.0,585.5 218.0,581.7 219.0,578.4 C220.0,575.1 220.9,572.7 221.7,569.0 C222.5,565.3 223.2,560.0 224.0,556.0 C224.8,552.0 225.5,548.5 226.5,545.0 C227.5,541.5 228.9,538.0 230.0,535.3 C231.1,532.6 231.9,530.5 233.0,529.0 C234.1,527.5 235.0,525.8 236.5,526.1 C238.0,526.4 240.5,528.9 242.0,530.7 C243.5,532.6 244.5,534.9 245.7,537.2 C246.9,539.5 248.2,542.0 249.4,544.5 C250.6,547.0 251.9,549.4 253.1,551.9 C254.3,554.4 255.6,556.7 256.8,559.3 C258.0,561.9 259.3,565.0 260.5,567.6 C261.7,570.2 263.0,572.7 264.2,575.0 C265.4,577.3 266.2,578.4 267.9,581.5 C269.6,584.6 272.0,589.9 274.2,593.6 C276.4,597.4 278.8,600.5 281.1,604.0 C283.4,607.5 285.8,611.2 288.1,614.4 C290.4,617.6 292.7,620.4 295.0,623.0 C297.3,625.6 299.6,628.3 301.9,630.0 C304.2,631.7 306.5,632.5 308.8,633.4 C311.1,634.3 313.4,634.5 315.7,635.2 C318.0,635.9 320.3,636.9 322.7,637.7 C325.1,638.6 327.6,639.1 330.0,640.3 C332.4,641.4 334.6,643.6 336.9,644.6 C339.2,645.6 341.5,645.1 343.8,646.3 C346.1,647.4 348.5,649.8 350.8,651.5 C353.1,653.2 355.4,655.7 357.7,656.7 C360.0,657.7 362.3,656.9 364.6,657.6 C366.9,658.3 369.2,659.4 371.5,661.0 C373.8,662.6 376.1,665.8 378.4,667.1 C380.7,668.4 383.1,668.4 385.4,668.8 C387.7,669.2 390.0,669.0 392.3,669.7 C394.6,670.4 396.9,672.7 399.2,673.1 C401.5,673.5 403.8,672.3 406.1,672.3 C408.4,672.3 410.4,672.9 413.0,673.1 C415.6,673.3 419.3,673.3 422.0,673.3 C424.7,673.3 426.7,673.2 429.0,673.3 C431.3,673.4 433.7,673.4 436.0,674.1 C438.3,674.8 440.7,676.8 443.0,677.7 C445.3,678.6 447.7,679.1 450.0,679.4 C452.3,679.7 454.7,679.2 457.0,679.4 C459.3,679.5 461.7,680.0 464.0,680.3 C466.3,680.6 468.7,680.9 471.0,681.2 C473.3,681.5 475.7,682.0 478.0,682.0 C480.3,682.0 482.7,681.5 485.0,681.2 C487.3,680.9 489.7,680.3 492.0,680.3 C494.3,680.3 497.1,680.8 499.0,681.2 C500.9,681.6 502.4,682.6 503.4,682.9 C504.4,683.2 504.8,682.9 505.1,682.9" stroke="#00e400"/>
<path d="M32.3,686.6 C32.5,686.6 31.9,686.7 33.5,686.6 C35.1,686.5 39.4,686.5 42.0,686.3 C44.6,686.1 47.0,685.4 49.2,685.4 C51.4,685.4 51.8,686.1 55.0,686.4 C58.2,686.7 63.0,687.5 68.5,687.0 C74.0,686.5 81.3,685.1 87.7,683.7 C94.1,682.3 102.7,679.9 106.9,678.8 C111.1,677.7 110.8,677.6 113.0,677.0 C115.2,676.4 118.1,675.9 120.0,675.4 C121.9,674.9 122.8,674.8 124.6,673.8 C126.4,672.8 128.8,670.0 130.8,669.2 C132.9,668.4 134.6,670.3 136.9,669.0 C139.2,667.7 142.0,663.4 144.6,661.5 C147.2,659.6 149.5,658.6 152.3,657.7 C155.1,656.8 159.2,656.7 161.5,656.2 C163.8,655.7 164.6,655.8 166.2,654.6 C167.8,653.4 169.3,651.0 170.8,649.2 C172.3,647.4 173.6,644.8 175.4,643.8 C177.2,642.8 179.7,643.9 181.5,643.1 C183.3,642.3 184.4,641.0 186.2,639.2 C188.0,637.4 190.5,634.6 192.3,632.3 C194.1,630.0 195.4,627.9 196.9,625.2 C198.4,622.6 199.7,619.5 201.1,616.4 C202.5,613.3 203.9,609.7 205.3,606.9 C206.7,604.1 208.1,601.8 209.5,599.5 C210.9,597.2 212.4,595.8 213.8,593.2 C215.2,590.6 216.6,586.7 218.0,583.7 C219.4,580.7 220.8,577.5 222.2,575.3 C223.6,573.1 225.1,571.6 226.4,570.5 C227.7,569.4 228.8,569.7 230.0,568.6 C231.2,567.5 232.5,565.2 233.7,564.0 C234.9,562.8 236.2,561.4 237.4,561.2 C238.6,561.0 240.0,562.2 241.1,562.6 C242.2,563.0 242.7,563.9 243.9,563.9 C245.1,563.9 247.1,562.4 248.5,562.6 C249.9,562.8 251.0,563.9 252.2,564.9 C253.4,565.9 254.5,567.2 255.9,568.6 C257.3,570.0 259.0,571.5 260.5,573.2 C262.0,574.9 263.7,577.0 265.1,578.7 C266.5,580.4 267.9,581.7 268.8,583.3 C269.8,584.9 269.3,586.1 270.8,588.4 C272.3,590.7 275.4,594.2 277.7,597.1 C280.0,600.0 282.3,603.1 284.6,605.7 C286.9,608.3 289.2,610.4 291.5,612.7 C293.8,615.0 296.1,617.6 298.4,619.6 C300.7,621.6 303.1,623.2 305.4,624.8 C307.7,626.4 310.0,627.7 312.3,629.1 C314.6,630.5 316.9,632.0 319.2,633.4 C321.5,634.8 324.3,636.3 326.1,637.7 C327.9,639.1 328.2,640.4 330.0,642.0 C331.8,643.6 334.6,645.9 336.9,647.2 C339.2,648.5 341.5,648.6 343.8,649.8 C346.1,650.9 348.5,652.7 350.8,654.1 C353.1,655.5 355.4,657.2 357.7,658.4 C360.0,659.5 362.3,660.1 364.6,661.0 C366.9,661.9 369.2,662.6 371.5,663.6 C373.8,664.6 376.1,666.1 378.4,667.1 C380.7,668.1 383.1,669.1 385.4,669.7 C387.7,670.3 390.0,670.6 392.3,670.6 C394.6,670.6 396.9,669.3 399.2,669.7 C401.5,670.1 403.8,672.2 406.1,673.1 C408.4,674.0 410.6,674.6 413.0,674.9 C415.4,675.2 418.2,674.4 420.3,675.0 C422.4,675.6 423.8,677.8 425.5,678.5 C427.2,679.2 428.8,679.4 430.8,679.4 C432.9,679.4 435.5,678.9 437.8,678.5 C440.1,678.1 442.5,676.5 444.8,676.8 C447.1,677.1 449.5,679.4 451.8,680.3 C454.1,681.2 456.5,681.9 458.8,682.0 C461.1,682.1 463.5,680.9 465.8,681.2 C468.1,681.5 470.8,683.1 472.8,683.8 C474.8,684.5 476.0,685.4 478.0,685.2 C480.0,685.1 482.7,683.7 485.0,682.9 C487.3,682.1 489.9,680.4 492.0,680.3 C494.1,680.1 495.5,681.1 497.3,682.0 C499.1,682.9 501.3,684.9 502.6,685.5 C503.9,686.1 504.7,685.5 505.1,685.5" stroke="#0a48dc"/>
</g>
<path d="M50.9,690.1V700.2M72.4,690.1V700.2M93.9,690.1V700.2M115.4,690.1V700.2M136.8,690.1V700.2M158.3,690.1V700.2M179.8,690.1V700.2M201.3,690.1V700.2M222.8,690.1V700.2M244.2,690.1V700.2M265.7,690.1V700.2M287.2,690.1V700.2M308.7,690.1V700.2M330.2,690.1V700.2M351.6,690.1V700.2M373.1,690.1V700.2M394.6,690.1V700.2M416.1,690.1V700.2M437.6,690.1V700.2M459.0,690.1V700.2M480.5,690.1V700.2M502.0,690.1V700.2" stroke="#000" stroke-width="2.4" fill="none"/>
<text x="72.4" y="721.6" text-anchor="middle" class="tl">778</text>
<text x="158.3" y="721.6" text-anchor="middle" class="tl">780</text>
<text x="244.2" y="721.6" text-anchor="middle" class="tl">782</text>
<text x="330.2" y="721.6" text-anchor="middle" class="tl">784</text>
<text x="416.1" y="721.6" text-anchor="middle" class="tl">786</text>
<text x="502.0" y="721.6" text-anchor="middle" class="tl">788</text>
<text x="268.6" y="752.2" text-anchor="middle" class="ti">Energy loss (eV)</text>
<text transform="translate(20.3,568.5) rotate(-90)" text-anchor="middle" class="ti">Intensity (arb. unit)</text>
<text x="2" y="436.8" class="pl">(b)</text>
<text x="375.6" y="478.8" class="lg li">LiCoO<tspan class="sub" dy="2">2</tspan></text>
<path d="M455.8,472.5H496.5" stroke="#000000" stroke-width="3.8"/>
<text x="336.2" y="510.1" class="lg c40">40% charged,</text>
<text x="385.4" y="536.1" class="lg a1">area 1</text>
<path d="M455.8,530.2H496.5" stroke="#ee00c0" stroke-width="3.8"/>
<text x="385.4" y="564.0" class="lg a2">area 2</text>
<path d="M455.8,558.0H496.5" stroke="#00e400" stroke-width="3.8"/>
<text x="385.4" y="591.9" class="lg a2">area 3</text>
<path d="M455.8,583.8H496.5" stroke="#0a48dc" stroke-width="3.8"/>
<path d="M181.9,595.3V605.0" stroke="#c0001c" stroke-width="2.5" stroke-linecap="round"/>
<path d="M174.8,604.0L189.0,604.0L181.9,616.3Z" fill="#e6001a"/>
</svg>
</body></html>
